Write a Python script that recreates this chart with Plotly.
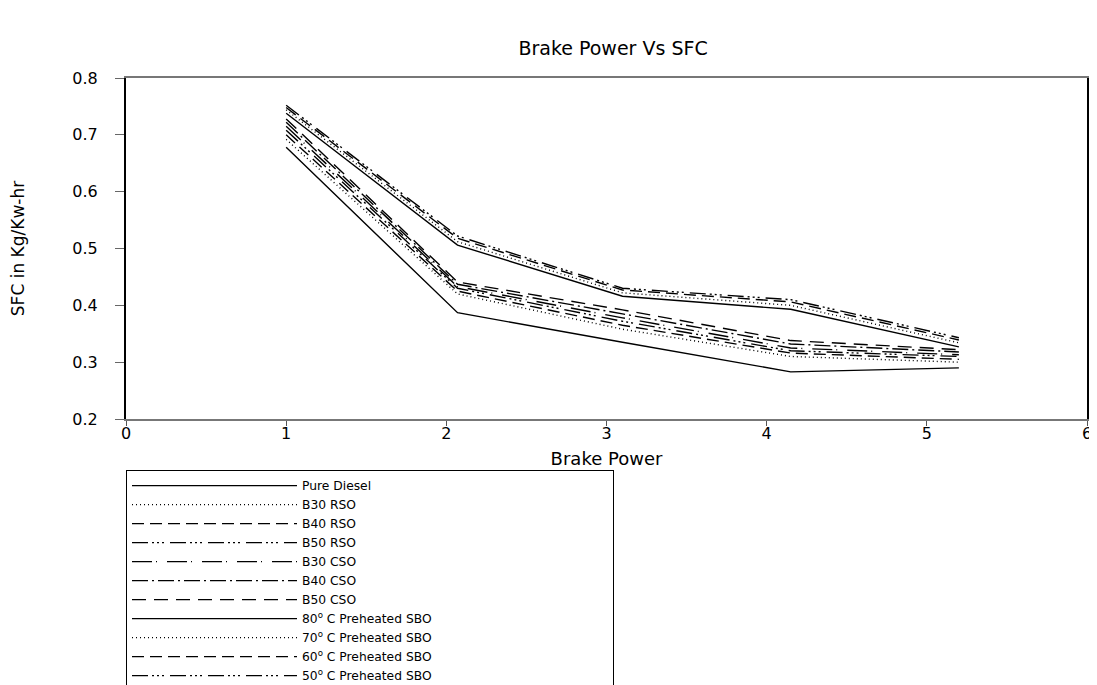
import plotly.graph_objects as go

brake_power = [1.0, 2.07, 3.1, 4.15, 5.2]

pure_diesel = [0.678, 0.387, 0.335, 0.283, 0.290]
b30_rso = [0.692, 0.420, 0.358, 0.310, 0.300]
b40_rso = [0.700, 0.425, 0.365, 0.316, 0.305]
b50_rso = [0.708, 0.430, 0.372, 0.320, 0.310]
b30_cso = [0.715, 0.433, 0.378, 0.325, 0.313]
b40_cso = [0.722, 0.437, 0.385, 0.332, 0.318]
b50_cso = [0.728, 0.441, 0.392, 0.338, 0.322]
sbo_80 = [0.738, 0.506, 0.416, 0.393, 0.327]
sbo_70 = [0.744, 0.512, 0.422, 0.400, 0.334]
sbo_60 = [0.748, 0.518, 0.427, 0.406, 0.339]
sbo_50 = [0.752, 0.522, 0.430, 0.410, 0.343]

series_names = [
    "Pure Diesel", "B30 RSO", "B40 RSO", "B50 RSO", "B30 CSO", "B40 CSO", "B50 CSO",
    "80<sup>o</sup> C Preheated SBO", "70<sup>o</sup> C Preheated SBO",
    "60<sup>o</sup> C Preheated SBO", "50<sup>o</sup> C Preheated SBO",
]
series_values = [pure_diesel, b30_rso, b40_rso, b50_rso, b30_cso, b40_cso, b50_cso,
                 sbo_80, sbo_70, sbo_60, sbo_50]
dashes = [
    "solid", "1px,3px", "12px,6px", "16px,4px,2px,3px,2px,3px,2px,6px",
    "20px,4px,1px,10px", "16px,4px,2px,4px", "14px,8px",
    "solid", "1px,3px", "12px,6px", "16px,4px,2px,3px,2px,3px,2px,6px",
]
x_ticks = [0, 1, 2, 3, 4, 5, 6]
y_ticks = [0.2, 0.3, 0.4, 0.5, 0.6, 0.7, 0.8]

FONT = "DejaVu Sans, Liberation Sans, Arial, sans-serif"

fig = go.Figure()
for name, vals, d in zip(series_names, series_values, dashes):
    fig.add_trace(go.Scatter(
        x=brake_power, y=vals, mode="lines", name=name,
        line=dict(color="black", width=1.4, dash=d),
    ))

fig.update_layout(
    width=1089, height=677,
    paper_bgcolor="white", plot_bgcolor="white",
    margin=dict(l=118, r=10, t=70, b=266, autoexpand=False),
    font=dict(family=FONT, color="black", size=13),
    title=dict(text="Brake Power Vs SFC", x=0.5556, xanchor="center",
               y=1 - 40 / 677, yanchor="middle", yref="container",
               font=dict(family=FONT, size=19, color="black")),
    showlegend=True,
    legend=dict(
        x=0, xanchor="left", y=-0.15, yanchor="top",
        bordercolor="black", borderwidth=1, bgcolor="white",
        font=dict(family=FONT, size=12.3, color="black"),
        itemwidth=165, tracegroupgap=0, traceorder="normal",
        orientation="h", entrywidth=306, entrywidthmode="pixels",
        maxheight=400,
    ),
)

fig.update_xaxes(
    range=[0, 6], tickvals=x_ticks, ticktext=[str(v) for v in x_ticks],
    showgrid=False, zeroline=False, automargin=False,
    showline=True, linecolor="#777777", linewidth=1.5, mirror=True,
    ticks="outside", ticklen=5, tickcolor="#555555",
    ticklabelstandoff=-6, ticklabeloverflow="allow",
    tickfont=dict(family=FONT, size=16),
    title=dict(text="Brake Power", font=dict(family=FONT, size=18), standoff=10),
)
fig.update_yaxes(
    range=[0.2, 0.8], tickvals=y_ticks, ticktext=[f"{v:.1f}" for v in y_ticks],
    showgrid=False, zeroline=False, automargin=False,
    showline=True, linecolor="black", linewidth=2, mirror=True,
    ticks="outside", ticklen=9, tickcolor="#666666",
    ticklabelstandoff=14, ticklabeloverflow="allow",
    tickfont=dict(family=FONT, size=16),
    title=dict(text="SFC in Kg/Kw-hr", font=dict(family=FONT, size=17), standoff=46),
)

fig.write_html("out.html")
